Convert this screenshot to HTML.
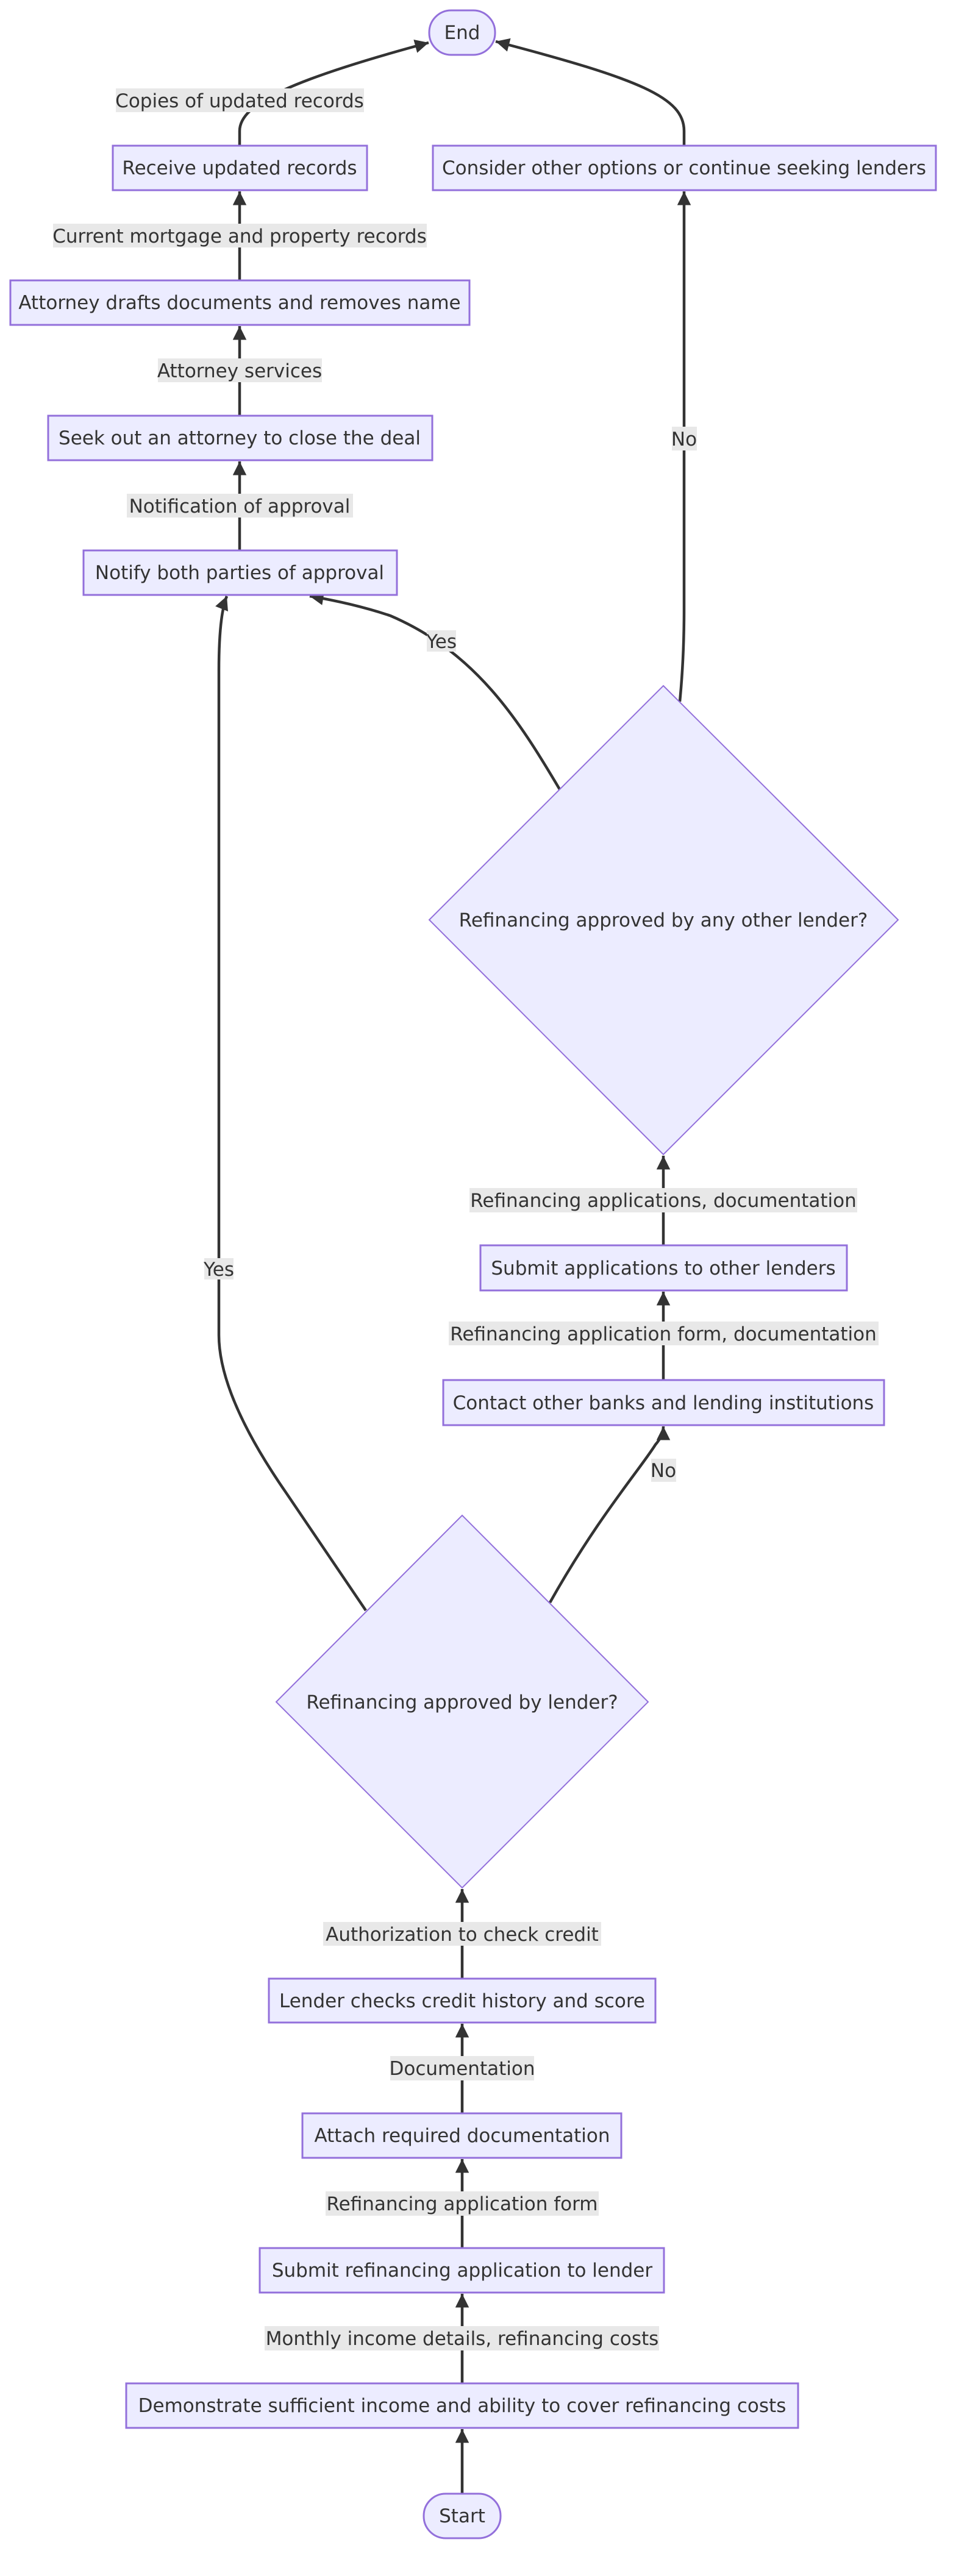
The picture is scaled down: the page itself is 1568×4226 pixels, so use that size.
<!DOCTYPE html>
<html><head><meta charset="utf-8"><style>
html,body{margin:0;padding:0;background:#fff;}
svg{display:block;}
text{font-family:"DejaVu Sans","Liberation Sans",sans-serif;font-size:31px;fill:#333;text-anchor:middle;}
.n{fill:#ECECFF;stroke:#9370DB;stroke-width:3;}
.d{fill:#ECECFF;stroke:#9370DB;stroke-width:2;}
.e{fill:none;stroke:#333;stroke-width:4.5;}
.l{fill:#e8e8e8;}
</style></head><body>
<svg width="1568" height="4226" viewBox="0 0 1568 4226" xmlns="http://www.w3.org/2000/svg">
<defs>
<marker id="a" viewBox="0 0 10 10" refX="10" refY="5" markerWidth="5" markerHeight="5" markerUnits="strokeWidth" orient="auto">
<path d="M0,0 L10,5 L0,10 z" fill="#333"/>
</marker>
</defs>

<path class="e" d="M758,4091 L758,3985" marker-end="url(#a)"/>
<path class="e" d="M758,3910 L758,3763" marker-end="url(#a)"/>
<path class="e" d="M758,3688 L758,3542" marker-end="url(#a)"/>
<path class="e" d="M758,3467 L758,3320" marker-end="url(#a)"/>
<path class="e" d="M758,3246 L758,3099" marker-end="url(#a)"/>
<path class="e" d="M600,2642 L470,2450 Q359,2290 359,2190 L359,1100 Q359,1010 372,978" marker-end="url(#a)"/>
<path class="e" d="M902,2629 C980,2490 1050,2410 1075,2370 Q1088,2355 1088,2340" marker-end="url(#a)"/>
<path class="e" d="M1088,2264 L1088,2119" marker-end="url(#a)"/>
<path class="e" d="M1088,2043 L1088,1896" marker-end="url(#a)"/>
<path class="e" d="M918,1295 C850,1180 780,1070 640,1010 Q580,990 508,978" marker-end="url(#a)"/>
<path class="e" d="M1115,1151 Q1122,1080 1122,1000 L1122,314" marker-end="url(#a)"/>
<path class="e" d="M1122,239 L1122,215 C1122,160 1050,130 813,68" marker-end="url(#a)"/>
<path class="e" d="M393,239 L393,215 C393,170 480,130 703,70" marker-end="url(#a)"/>
<path class="e" d="M393,460 L393,314" marker-end="url(#a)"/>
<path class="e" d="M393,682 L393,535" marker-end="url(#a)"/>
<path class="e" d="M393,903 L393,757" marker-end="url(#a)"/>

<rect class="l" x="190" y="145" width="407" height="39"/><text x="393" y="176">Copies of updated records</text>
<rect class="l" x="87" y="367" width="613" height="39"/><text x="393" y="398">Current mortgage and property records</text>
<rect class="l" x="259" y="588" width="269" height="39"/><text x="393" y="619">Attorney services</text>
<rect class="l" x="208" y="810" width="371" height="39"/><text x="393" y="841">Notification of approval</text>
<rect class="l" x="1102" y="700" width="41" height="39"/><text x="1122" y="731">No</text>
<rect class="l" x="700" y="1034" width="48" height="35"/><text x="724" y="1063">Yes</text>
<rect class="l" x="335" y="2064" width="48" height="35"/><text x="359" y="2093">Yes</text>
<rect class="l" x="770" y="1949" width="636" height="40"/><text x="1088" y="1980">Refinancing applications, documentation</text>
<rect class="l" x="736" y="2168" width="705" height="39"/><text x="1088" y="2199">Refinancing application form, documentation</text>
<rect class="l" x="1068" y="2393" width="41" height="38"/><text x="1088" y="2423">No</text>
<rect class="l" x="530" y="3153" width="456" height="39"/><text x="758" y="3184">Authorization to check credit</text>
<rect class="l" x="640" y="3373" width="236" height="40"/><text x="758" y="3404">Documentation</text>
<rect class="l" x="534" y="3595" width="448" height="40"/><text x="758" y="3626">Refinancing application form</text>
<rect class="l" x="434" y="3816" width="647" height="40"/><text x="758" y="3847">Monthly income details, refinancing costs</text>

<rect class="n" x="704" y="17" width="108" height="73" rx="36" ry="36"/><text x="758" y="64">End</text>
<rect class="n" x="185" y="239" width="417" height="73"/><text x="393" y="286">Receive updated records</text>
<rect class="n" x="710" y="239" width="825" height="73"/><text x="1122" y="286">Consider other options or continue seeking lenders</text>
<rect class="n" x="17" y="460" width="753" height="73"/><text x="393" y="507">Attorney drafts documents and removes name</text>
<rect class="n" x="79" y="682" width="630" height="73"/><text x="393" y="729">Seek out an attorney to close the deal</text>
<rect class="n" x="137" y="903" width="514" height="73"/><text x="393" y="950">Notify both parties of approval</text>
<polygon class="d" points="1088,1125 1473,1509 1088,1894 704,1509"/><text x="1088" y="1520">Refinancing approved by any other lender?</text>
<rect class="n" x="788" y="2043" width="601" height="74"/><text x="1088" y="2091">Submit applications to other lenders</text>
<rect class="n" x="727" y="2264" width="723" height="74"/><text x="1088" y="2312">Contact other banks and lending institutions</text>
<polygon class="d" points="758,2486 1063,2792 758,3097 453,2792"/><text x="758" y="2803">Refinancing approved by lender?</text>
<rect class="n" x="441" y="3246" width="634" height="72"/><text x="758" y="3293">Lender checks credit history and score</text>
<rect class="n" x="496" y="3467" width="523" height="73"/><text x="758" y="3514">Attach required documentation</text>
<rect class="n" x="426" y="3688" width="663" height="73"/><text x="758" y="3735">Submit refinancing application to lender</text>
<rect class="n" x="207" y="3910" width="1102" height="73"/><text x="758" y="3957">Demonstrate sufficient income and ability to cover refinancing costs</text>
<rect class="n" x="695" y="4091" width="126" height="73" rx="36" ry="36"/><text x="758" y="4138">Start</text>
</svg>
</body></html>
